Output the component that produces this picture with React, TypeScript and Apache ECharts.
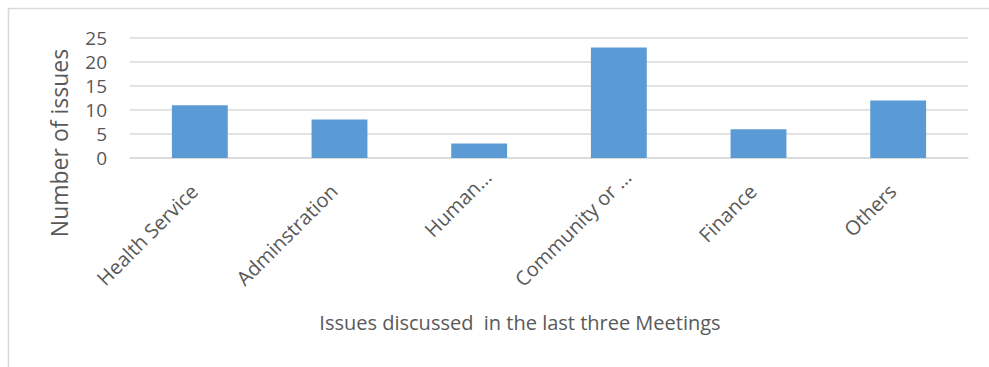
import React, { useEffect, useRef } from "react";
import * as echarts from "echarts";

const categories = ["Health Service", "Adminstration", "Human…", "Community or …", "Finance", "Others"];
const truncatedCategories = ["Human…", "Community or …"];
const issueCounts = [11, 8, 3, 23, 6, 12];
const yTicks = [0, 5, 10, 15, 20, 25];
const yAxisTitle = "Number of issues";
const xAxisTitle = "Issues discussed  in the last three Meetings";

const TEXT = "#595959";
const FONT = "'Open Sans', sans-serif";

export default function App() {
  const ref = useRef<HTMLDivElement>(null);
  useEffect(() => {
    if (!ref.current) return;
    const chart = echarts.init(ref.current, undefined, { renderer: "svg" });
    chart.setOption({
      animation: false,
      backgroundColor: "#ffffff",
      grid: { left: 130, right: 21, top: 38, bottom: 209, containLabel: false },
      xAxis: {
        type: "category",
        data: categories.map((c) =>
          truncatedCategories.includes(c)
            ? { value: c, textStyle: { padding: [0, -12, 0, 0] } }
            : c
        ),
        axisLine: { show: true, lineStyle: { color: "#d9d9d9", width: 1.5 } },
        axisTick: { show: false },
        axisLabel: {
          rotate: 45,
          interval: 0,
          margin: 24,
          padding: [0, 8, 0, 0],
          color: TEXT,
          fontSize: 20,
          fontFamily: FONT,
        },
      },
      yAxis: {
        type: "value",
        min: yTicks[0],
        max: yTicks[yTicks.length - 1],
        interval: 5,
        axisLine: { show: false },
        axisTick: { show: false },
        splitLine: { lineStyle: { color: "#d9d9d9", width: 1.5 } },
        axisLabel: { color: TEXT, fontSize: 19, fontFamily: FONT, margin: 23 },
      },
      series: [
        {
          type: "bar",
          data: issueCounts,
          barWidth: "40%",
          itemStyle: { color: "#5b9bd5" },
        },
      ],
      graphic: [
        {
          type: "rect",
          shape: { x: 8.5, y: 8.5, width: 1200, height: 600 },
          style: { fill: "none", stroke: "#d9d9d9", lineWidth: 1.5 },
          silent: true,
        },
        {
          type: "text",
          x: 59,
          y: 143,
          rotation: Math.PI / 2,
          style: {
            text: yAxisTitle,
            fill: TEXT,
            fontSize: 23,
            fontFamily: FONT,
            align: "center",
            verticalAlign: "middle",
          },
        },
        {
          type: "text",
          x: 520,
          y: 322,
          style: {
            text: xAxisTitle,
            fill: TEXT,
            fontSize: 20,
            fontFamily: FONT,
            align: "center",
            verticalAlign: "middle",
          },
        },
      ],
    });
    return () => chart.dispose();
  }, []);
  return (
    <div
      ref={ref}
      style={{ position: "fixed", left: 0, top: 0, width: 989, height: 367 }}
    />
  );
}
